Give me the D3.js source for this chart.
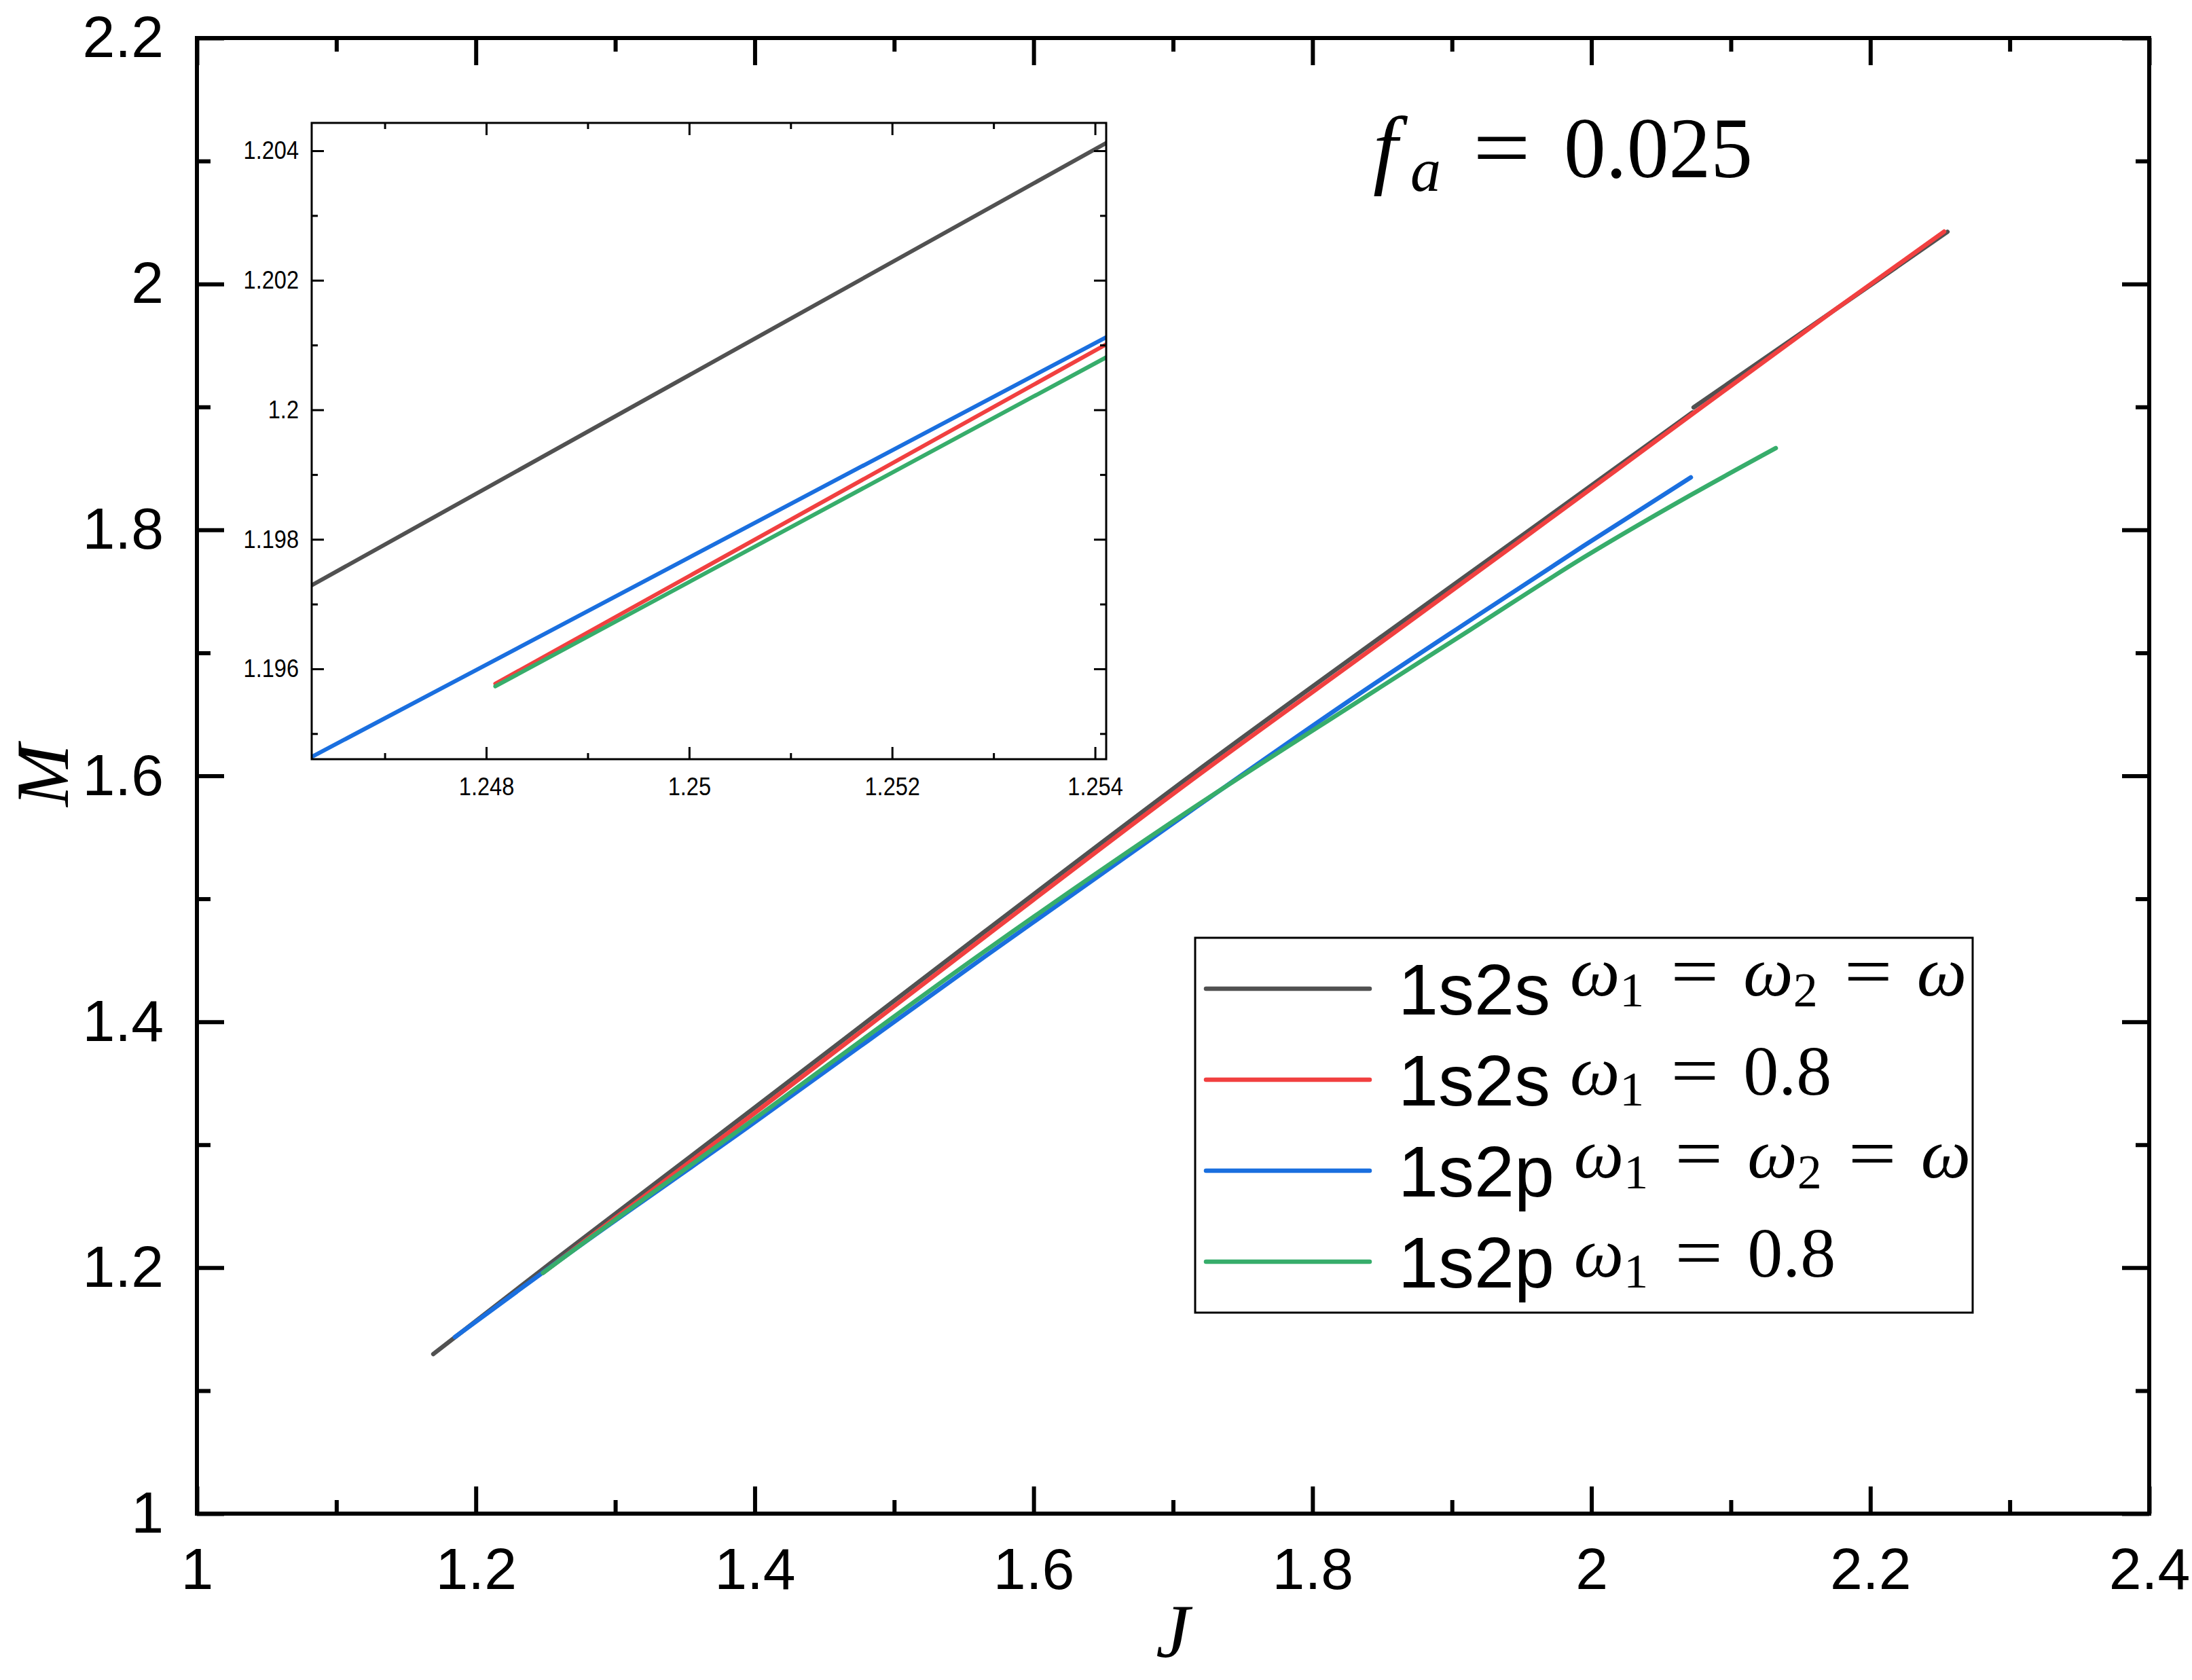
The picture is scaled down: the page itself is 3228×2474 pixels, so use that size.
<!DOCTYPE html>
<html>
<head>
<meta charset="utf-8">
<script src="https://cdn.jsdelivr.net/npm/d3@7"></script>
<style>
  body { margin: 0; background: #fff; }
  svg { display: block; }
</style>
</head>
<body>
<div id="chart"></div>
<script>
// M(J) curves, f_a = 0.025

// 1s2s, w1 = w2 = w (two branches, the second one starts a bit above the red curve)
const J_1s2s_eq_a = [1.1695, 1.24628, 1.25411, 1.3944, 1.5649, 1.7139, 1.857, 1.9535, 2.0725];
const M_1s2s_eq_a = [1.1298, 1.19729, 1.20412, 1.3253, 1.4733, 1.6012, 1.7194, 1.798, 1.8955];
const J_1s2s_eq_b = [2.0733, 2.1736, 2.2553];
const M_1s2s_eq_b = [1.8996, 1.9782, 2.0424];

// 1s2s, w1 = 0.8
const J_1s2s_08 = [1.24809, 1.25411, 1.3944, 1.5649, 1.7139, 1.8327, 1.9535, 2.0728, 2.1736, 2.2529];
const M_1s2s_08 = [1.19577, 1.20101, 1.3209, 1.4689, 1.597, 1.695, 1.795, 1.8945, 1.9782, 2.0426];

// 1s2p, w1 = w2 = w
const J_1s2p_eq = [1.185, 1.24628, 1.25411, 1.3944, 1.5649, 1.7139, 1.8327, 1.9135, 1.9943, 2.0713];
const M_1s2p_eq = [1.1436, 1.19464, 1.20112, 1.3137, 1.4529, 1.5725, 1.666, 1.7268, 1.7869, 1.8427];

// 1s2p, w1 = 0.8
const J_1s2p_08 = [1.24809, 1.25411, 1.3944, 1.5649, 1.7139, 1.8327, 1.9135, 1.9943, 2.0713, 2.1322];
const M_1s2p_08 = [1.19573, 1.20081, 1.3165, 1.4573, 1.5735, 1.6605, 1.719, 1.7775, 1.8284, 1.8665];

// ticks
const xMajorTicks = [1, 1.2, 1.4, 1.6, 1.8, 2, 2.2, 2.4];
const xMinorTicks = [1.1, 1.3, 1.5, 1.7, 1.9, 2.1, 2.3];
const yMajorTicks = [1, 1.2, 1.4, 1.6, 1.8, 2, 2.2];
const yMinorTicks = [1.1, 1.3, 1.5, 1.7, 1.9, 2.1];
const insetXMajor = [1.248, 1.25, 1.252, 1.254];
const insetXMinor = [1.247, 1.249, 1.251, 1.253];
const insetYMajor = [1.196, 1.198, 1.2, 1.202, 1.204];
const insetYMinor = [1.195, 1.197, 1.199, 1.201, 1.203];

// legend
const legendState = ["1s2s", "1s2s", "1s2p", "1s2p"];
const legendCondition = ["ω₁ = ω₂ = ω", "ω₁ = 0.8", "ω₁ = ω₂ = ω", "ω₁ = 0.8"];
const colors = ["#515151", "#F14040", "#1A6FDF", "#37AD6B"];

const W = 3228, H = 2474;
const SANS = "'Liberation Sans', Arial, sans-serif";
const SERIF = "'Liberation Serif', 'Times New Roman', serif";

const svg = d3.select("#chart").append("svg")
    .attr("width", W)
    .attr("height", H)
    .style("background", "#fff");

// scales
const x = d3.scaleLinear().domain([1, 2.4]).range([290, 3165]);
const y = d3.scaleLinear().domain([1, 2.2]).range([2229, 56]);
const xi = d3.scaleLinear().domain([1.24628, 1.25411]).range([459, 1629]);
const yi = d3.scaleLinear().domain([1.194605, 1.20443]).range([1118, 181]);

const fmt = d => String(+d.toFixed(3));

const series = [
    { pieces: [[J_1s2s_eq_a, M_1s2s_eq_a], [J_1s2s_eq_b, M_1s2s_eq_b]], color: colors[0] },
    { pieces: [[J_1s2s_08, M_1s2s_08]], color: colors[1] },
    { pieces: [[J_1s2p_eq, M_1s2p_eq]], color: colors[2] },
    { pieces: [[J_1s2p_08, M_1s2p_08]], color: colors[3] }
];

// axis helper: draws ticks only, frame is a rect on top
function axisGroup(parent, axis, transform, opts) {
    const g = parent.append("g").attr("transform", transform).call(axis);
    g.select(".domain").remove();
    g.attr("font-family", opts.font || SANS).attr("font-size", opts.fontSize || 86).attr("fill", "#000");
    g.selectAll("line").attr("stroke", "#000").attr("stroke-width", opts.width);
    g.selectAll("text").attr("fill", "#000");
    return g;
}

function drawFrame(parent, sx, sy, tick, sw, labelPad, fontSize, xMaj, xMin, yMaj, yMin, narrow) {
    const [x0, x1] = sx.range();
    const [y0, y1] = sy.range(); // y0 bottom, y1 top
    const o = { width: sw, fontSize: fontSize };

    const b = axisGroup(parent, d3.axisBottom(sx).tickValues(xMaj).tickSize(-tick.major).tickPadding(labelPad.x).tickFormat(fmt), `translate(0,${y0})`, o);
    axisGroup(parent, d3.axisBottom(sx).tickValues(xMin).tickSize(-tick.minor).tickFormat(""), `translate(0,${y0})`, o);
    axisGroup(parent, d3.axisTop(sx).tickValues(xMaj).tickSize(-tick.major).tickFormat(""), `translate(0,${y1})`, o);
    axisGroup(parent, d3.axisTop(sx).tickValues(xMin).tickSize(-tick.minor).tickFormat(""), `translate(0,${y1})`, o);

    const l = axisGroup(parent, d3.axisLeft(sy).tickValues(yMaj).tickSize(-tick.major).tickPadding(labelPad.y).tickFormat(fmt), `translate(${x0},0)`, o);
    axisGroup(parent, d3.axisLeft(sy).tickValues(yMin).tickSize(-tick.minor).tickFormat(""), `translate(${x0},0)`, o);
    axisGroup(parent, d3.axisRight(sy).tickValues(yMaj).tickSize(-tick.major).tickFormat(""), `translate(${x1},0)`, o);
    axisGroup(parent, d3.axisRight(sy).tickValues(yMin).tickSize(-tick.minor).tickFormat(""), `translate(${x1},0)`, o);

    if (narrow) {
        // inset labels are in a condensed face
        b.selectAll("text").attr("transform", "scale(0.88,1)");
        l.selectAll("text").attr("transform", "scale(0.88,1)")
            .attr("x", -labelPad.y / 0.88);
    }

    parent.append("rect")
        .attr("x", x0).attr("y", y1)
        .attr("width", x1 - x0).attr("height", y0 - y1)
        .attr("fill", "none").attr("stroke", "#000").attr("stroke-width", sw);
}

function drawCurves(parent, sx, sy, width) {
    const line = d3.line()
        .x(d => sx(d[0]))
        .y(d => sy(d[1]))
        .curve(d3.curveMonotoneX);
    series.forEach(s => {
        s.pieces.forEach(([J, M]) => {
            parent.append("path")
                .datum(d3.zip(J, M))
                .attr("d", line)
                .attr("fill", "none")
                .attr("stroke", s.color)
                .attr("stroke-width", width)
                .attr("stroke-linecap", "round")
                .attr("stroke-linejoin", "round");
        });
    });
}

// ---- main plot
const main = svg.append("g").attr("class", "main");
drawCurves(main, x, y, 6.5);
drawFrame(main, x, y, { major: 40, minor: 20 }, 6, { x: 50, y: 49 }, 86,
    xMajorTicks, xMinorTicks, yMajorTicks, yMinorTicks, false);

// axis titles
svg.append("text")
    .attr("x", 1727).attr("y", 2440)
    .attr("text-anchor", "middle")
    .attr("font-family", SERIF).attr("font-style", "italic").attr("font-size", 112)
    .text("J");
svg.append("text")
    .attr("transform", "translate(100,1142) rotate(-90)")
    .attr("text-anchor", "middle")
    .attr("font-family", SERIF).attr("font-style", "italic").attr("font-size", 110)
    .text("M");

// f_a = 0.025
const fa = svg.append("text").attr("font-family", SERIF).attr("y", 261);
fa.append("tspan").attr("x", 2022).attr("font-style", "italic").attr("font-size", 130).text("f");
fa.append("tspan").attr("x", 2077).attr("dy", 20).attr("font-style", "italic").attr("font-size", 90).text("a");
fa.append("tspan").attr("x", 2169).attr("dy", -20).attr("font-size", 130)
    .attr("textLength", 85).attr("lengthAdjust", "spacingAndGlyphs").text("=");
fa.append("tspan").attr("x", 2303).attr("font-size", 128)
    .attr("textLength", 278).attr("lengthAdjust", "spacingAndGlyphs").text("0.025");

// ---- inset
const inset = svg.append("g").attr("class", "inset");
inset.append("rect")
    .attr("x", 459).attr("y", 181).attr("width", 1170).attr("height", 937)
    .attr("fill", "#fff");
svg.append("clipPath").attr("id", "insetClip")
    .append("rect").attr("x", 459).attr("y", 181).attr("width", 1170).attr("height", 937);
const insetLines = inset.append("g").attr("clip-path", "url(#insetClip)");
drawCurves(insetLines, xi, yi, 6);
drawFrame(inset, xi, yi, { major: 18, minor: 9 }, 3, { x: 27, y: 19 }, 37,
    insetXMajor, insetXMinor, insetYMajor, insetYMinor, true);

// ---- legend
const lg = svg.append("g").attr("class", "legend");
lg.append("rect")
    .attr("x", 1760).attr("y", 1381).attr("width", 1145).attr("height", 552)
    .attr("fill", "#fff").attr("stroke", "#000").attr("stroke-width", 3);

const rowY = d3.scalePoint().domain(d3.range(legendState.length)).range([1456, 1858]);

legendState.forEach((name, i) => {
    const ly = rowY(i);
    lg.append("line")
        .attr("x1", 1776).attr("x2", 2017).attr("y1", ly).attr("y2", ly)
        .attr("stroke", colors[i]).attr("stroke-width", 6.5).attr("stroke-linecap", "round");

    const t = lg.append("text")
        .attr("x", 2059).attr("y", ly + 38)
        .attr("font-family", SANS).attr("font-size", 106)
        .text(name);
    let cx = 2059 + t.node().getComputedTextLength() + 29;

    // math part, centred on the line the way a pasted equation image would be
    const tokens = legendCondition[i].split(" ");
    const hasDigits = tokens.some(tk => /\d\.\d/.test(tk));
    const base = ly + (hasDigits ? 22 : 10);
    const m = lg.append("text").attr("font-family", SERIF).attr("y", base);
    tokens.forEach(tk => {
        if (tk === "=") {
            cx += 39;
            m.append("tspan").attr("x", cx).attr("y", base).attr("font-size", 104)
                .attr("textLength", 71).attr("lengthAdjust", "spacingAndGlyphs").text("=");
            cx += 71 + 36;
            return;
        }
        const sub = { "₁": "1", "₂": "2" }[tk.slice(-1)];
        const body = sub ? tk.slice(0, -1) : tk;
        const isGreek = /ω/.test(body);
        const sp = m.append("tspan").attr("x", cx).attr("y", base).attr("font-size", 104)
            .attr("font-style", isGreek ? "italic" : "normal").text(body);
        cx += sp.node().getComputedTextLength();
        if (sub) {
            const ss = m.append("tspan").attr("x", cx).attr("y", base + 16).attr("font-size", 72).text(sub);
            cx += ss.node().getComputedTextLength();
        }
    });
});
</script>
</body>
</html>
